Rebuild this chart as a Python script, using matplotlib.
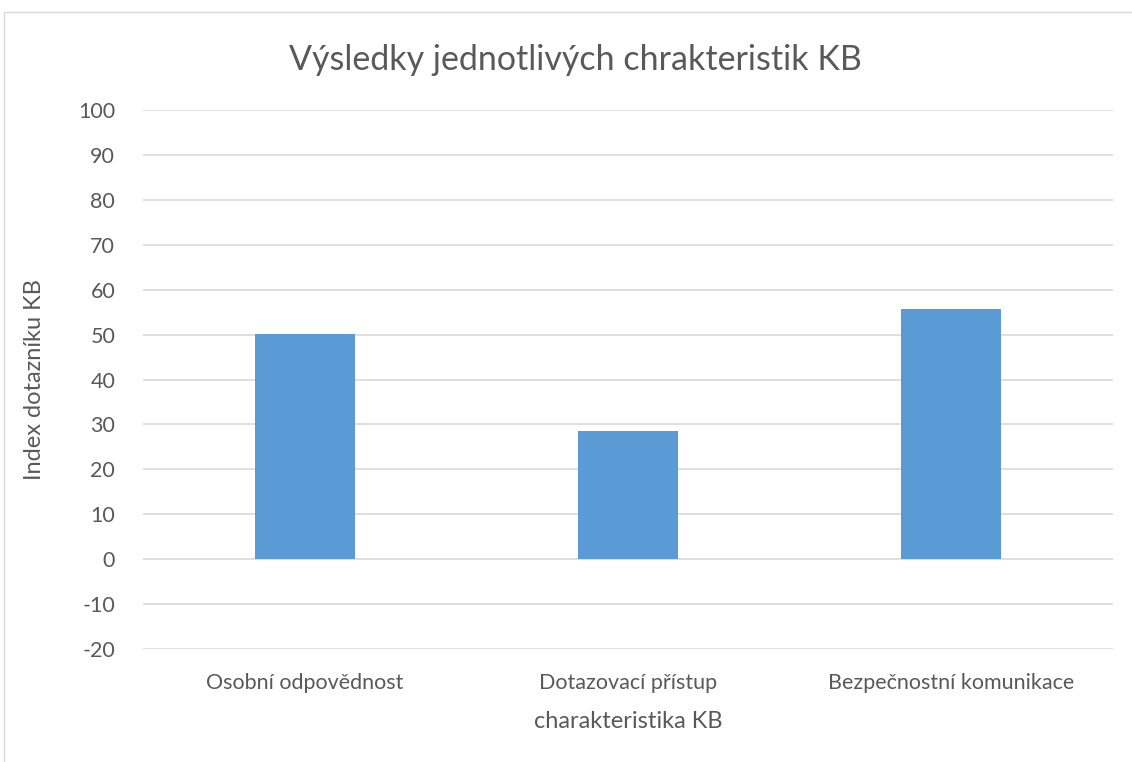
import matplotlib
matplotlib.use("Agg")
import matplotlib.pyplot as plt
from matplotlib.patches import Rectangle

categories = ["Osobní odpovědnost", "Dotazovací přístup", "Bezpečnostní komunikace"]
values = [50.2, 28.5, 55.7]
yticks = list(range(-20, 101, 10))

plt.rcParams['font.family'] = ['Lato', 'DejaVu Sans']
fig = plt.figure(figsize=(11.32, 7.62), dpi=100)
ax = fig.add_axes([143/1132, 1-649/762, (1113-143)/1132, (649-110)/762])

gray = '#595959'
ax.bar(range(len(categories)), values, width=0.31, color='#5b9bd5', zorder=3)
ax.set_xlim(-0.5, len(categories)-0.5)
ax.set_ylim(-20, 100)
ax.set_yticks(yticks)
ax.set_yticklabels([str(t) for t in yticks], color=gray, fontsize=15.5)
ax.set_xticks(range(len(categories)))
ax.set_xticklabels(categories, color=gray, fontsize=15.5)
ax.tick_params(axis='both', length=0)
ax.tick_params(axis='y', pad=20)
ax.tick_params(axis='x', pad=17)
ax.grid(axis='y', color='#d9d9d9', linewidth=1.2, zorder=0)
for s in ax.spines.values():
    s.set_visible(False)
ax.set_ylabel("Index dotazníku KB", color=gray, fontsize=17, labelpad=24)
ax.set_xlabel("charakteristika KB", color=gray, fontsize=17, labelpad=13)
fig.text(575/1132, 1-60/762, "Výsledky jednotlivých chrakteristik KB", ha='center', va='center',
         fontsize=24.5, color=gray)
fig.patches.append(Rectangle((4/1132, -0.1), 1.2, 1-12/762+0.1, transform=fig.transFigure,
                             fill=False, edgecolor='#d9d9d9', linewidth=1))
fig.savefig("out.png", dpi=100)
